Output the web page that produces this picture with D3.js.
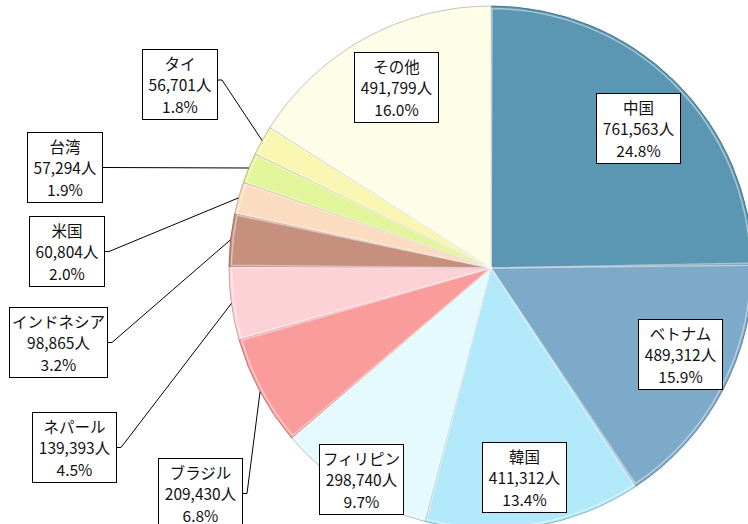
<!DOCTYPE html>
<html>
<head>
<meta charset="utf-8">
<script src="https://cdn.jsdelivr.net/npm/d3@7"></script>
<style>
  html, body { margin: 0; padding: 0; background: #fff; }
  svg { display: block; }
</style>
</head>
<body>
<div id="chart"></div>
<script>
// data
const countries = ['中国', 'ベトナム', '韓国', 'フィリピン', 'ブラジル', 'ネパール', 'インドネシア', '米国', '台湾', 'タイ', 'その他'];
const people = [761563, 489312, 411312, 298740, 209430, 139393, 98865, 60804, 57294, 56701, 491799];
const shares = ['24.8%', '15.9%', '13.4%', '9.7%', '6.8%', '4.5%', '3.2%', '2.0%', '1.9%', '1.8%', '16.0%'];
const colors = ['#5b97b2', '#7eaaca', '#b2e9fa', '#e5fafd', '#fa9c9c', '#fdd2d6', '#c78f7e', '#fcdcc1', '#e3f59b', '#f8f6b1', '#fefde7'];

// label boxes (top-left corner) and whether they get a leader line
const labelPos = [
  [596, 93, false], [638, 319, false], [482, 442, false], [319, 444, false],
  [158, 458, true], [32, 412, true], [9, 307, true], [29, 216, true],
  [27, 132, true], [142, 49, true], [354, 52, false]
];

const W = 748, H = 524;
const cx = 491, cy = 268, R = 262;

const svg = d3.select('#chart').append('svg')
  .attr('width', W)
  .attr('height', H);

const pie = d3.pie().sort(null).value(d => d)(people);
const arc = d3.arc().innerRadius(0).outerRadius(R);

const g = svg.append('g').attr('transform', 'translate(' + cx + ',' + cy + ')');

g.selectAll('path.slice')
  .data(pie)
  .enter()
  .append('path')
  .attr('class', 'slice')
  .attr('d', arc)
  .attr('fill', (d, i) => colors[i])
  .attr('stroke', (d, i) => d3.color(colors[i]).darker(0.7))
  .attr('stroke-width', 1)
  .attr('stroke-linejoin', 'round');

// soft bevel highlight inside each slice
const inner = d3.arc().innerRadius(0).outerRadius(R - 2.5);
g.selectAll('path.bevel')
  .data(pie)
  .enter()
  .append('path')
  .attr('class', 'bevel')
  .attr('d', d => inner({startAngle: d.startAngle + 0.004, endAngle: d.endAngle - 0.004}))
  .attr('fill', 'none')
  .attr('stroke', '#ffffff')
  .attr('stroke-opacity', 0.45)
  .attr('stroke-width', 1.5);

// labels
const boxH = 70, lineH = 21.5;

pie.forEach(function (d, i) {
  let lx = labelPos[i][0], ly = labelPos[i][1];
  let lbl = svg.append('g').attr('transform', 'translate(' + lx + ',' + ly + ')');
  let bw = people[i] >= 100000 ? 84 : 75;
  if (i === 6) bw = 98;

  if (labelPos[i][2]) {
    let mid = (d.startAngle + d.endAngle) / 2;
    let px = cx + R * Math.sin(mid), py = cy - R * Math.cos(mid);
    let sx = lx + bw, sy = ly + boxH / 2 + 0.5;
    if (i === 9) sy = ly + boxH - 39;
    svg.append('polyline')
      .attr('points', [[sx, sy], [sx + 5, sy], [px, py]].map(p => p.join(',')).join(' '))
      .attr('fill', 'none')
      .attr('stroke', '#000')
      .attr('stroke-width', 1);
  }

  lbl.append('rect')
    .attr('x', 0.5).attr('y', 0.5)
    .attr('width', bw).attr('height', boxH)
    .attr('fill', '#fff')
    .attr('stroke', '#000')
    .attr('stroke-width', 1);

  let lines = [countries[i], d3.format(',')(people[i]) + '人', shares[i]];
  lbl.selectAll('text')
    .data(lines)
    .enter()
    .append('text')
    .attr('x', bw / 2 + 0.5)
    .attr('y', (t, k) => 20.5 + k * lineH)
    .attr('text-anchor', 'middle')
    .attr('font-family', '"Noto Sans CJK JP", "Noto Sans", sans-serif')
    .attr('font-size', 15.5)
    .attr('fill', '#111')
    .text(t => t);
});
</script>
</body>
</html>
